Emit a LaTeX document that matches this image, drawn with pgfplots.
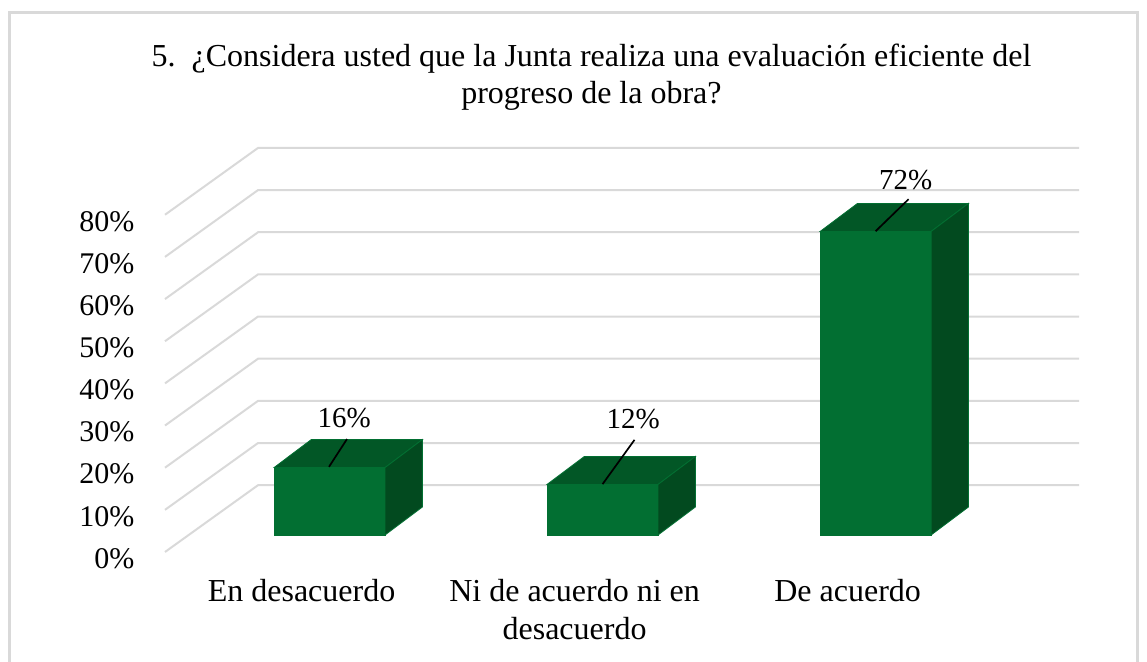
\documentclass[border=0pt]{standalone}
\usepackage{fontspec}
\setmainfont{Liberation Serif}
\usepackage{pgfplots}
\pgfplotsset{compat=1.18}
\definecolor{barfront}{HTML}{026F32}
\definecolor{bartop}{HTML}{025726}
\definecolor{barside}{HTML}{024A1F}
\definecolor{gridc}{HTML}{D9D9D9}
% px per unit: x 273 px per category, y 4.216 px per percent
\newcommand{\barbox}[2]{% center, value
  \addplot[fill=barfront,draw=barfront,line width=0.8pt,yshift=17pt] coordinates {(#1-0.2033,0)(#1+0.2033,0)(#1+0.2033,#2)(#1-0.2033,#2)} --cycle;
  \addplot[fill=bartop,draw=barfront,line width=0.8pt,yshift=17pt] coordinates {(#1-0.2033,#2)(#1+0.2033,#2)(#1+0.3400,#2+6.64)(#1-0.0667,#2+6.64)} --cycle;
  \addplot[fill=barside,draw=barfront,line width=0.8pt,yshift=17pt] coordinates {(#1+0.2033,0)(#1+0.3400,6.64)(#1+0.3400,#2+6.64)(#1+0.2033,#2)} --cycle;
}
\newcommand{\gridl}[1]{%
  \addplot[gridc,line width=2pt] coordinates {(-0.6026,#1)(-0.2619,#1+15.85)(2.745,#1+15.85)};
}
\begin{document}
\begin{tikzpicture}[x=1pt,y=1pt]
\path[use as bounding box] (0,0) rectangle (1147,661);
\draw[gridc,line width=2.4pt] (9.5,-5) -- (9.5,648.5) -- (1137.5,648.5) -- (1137.5,-5);
\node[font=\fontsize{32}{37}\selectfont,align=center,anchor=center] at (591.5,584)
  {5.\ \ ¿Considera usted que la Junta realiza una evaluación eficiente del\\progreso de la obra?};
\begin{axis}[
  at={(165pt,109pt)},anchor=south west,
  scale only axis,width=914pt,height=404.7pt,
  xmin=-0.6026,xmax=2.745,ymin=0,ymax=96,
  clip=false,
  axis line style={draw=none},
  major tick length=0pt,
  ytick={0,10,...,80},
  yticklabel={\pgfmathprintnumber{\tick}\%},
  /pgf/number format/assume math mode=true,
  yticklabel style={font=\fontsize{30}{32}\selectfont,yshift=-6.5pt,xshift=-27pt},
  xtick={-0.1025,0.8975,1.8975},
  xticklabels={En desacuerdo,Ni de acuerdo ni en\\desacuerdo,De acuerdo},
  xticklabel style={font=\fontsize{32}{38}\selectfont,align=center,anchor=north,yshift=-24pt},
]
\gridl{0}\gridl{10}\gridl{20}\gridl{30}\gridl{40}\gridl{50}\gridl{60}\gridl{70}\gridl{80}
\barbox{0}{16}
\barbox{1}{12}
\barbox{2}{72}
\addplot[black,line width=1.7pt] coordinates {(-0.002,20.2)(0.064,26.8)};
\addplot[black,line width=1.7pt] coordinates {(1,16.1)(1.117,26.6)};
\addplot[black,line width=1.7pt] coordinates {(2,76.1)(2.121,83.7)};
\node[font=\fontsize{29}{32}\selectfont] at (axis cs:0.054,31.8) {16\%};
\node[font=\fontsize{29}{32}\selectfont] at (axis cs:1.112,31.6) {12\%};
\node[font=\fontsize{29}{32}\selectfont] at (axis cs:2.11,88.2) {72\%};
\end{axis}
\end{tikzpicture}
\end{document}
